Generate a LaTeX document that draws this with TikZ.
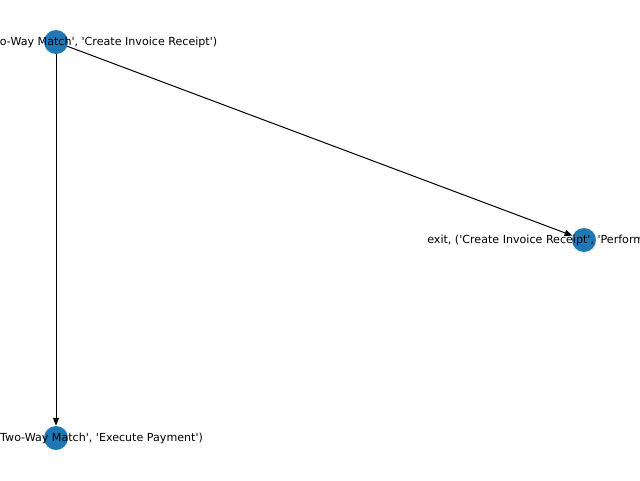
\documentclass[tikz,border=0pt]{standalone}
\usepackage{fontspec}
\setmainfont{DejaVu Sans}[Ligatures=TeXOff]
\usepackage{xcolor}
\usetikzlibrary{arrows.meta}
\definecolor{nodeblue}{HTML}{1F77B4}

\begin{document}
\begin{tikzpicture}[x=1pt, y=-1pt, >={Triangle[length=8pt,width=6pt]}]
\tikzstyle{dot}=[circle, fill=nodeblue, minimum size=24pt, inner sep=0pt]
\tikzstyle{lbl}=[inner sep=0pt, font=\fontsize{11.1}{13}\selectfont]

\useasboundingbox (0,0) rectangle (640,480);
\clip (0,0) rectangle (640,480);

\node[dot] (match) at (56,42) {};
\node[dot] (exit) at (584,240) {};
\node[dot] (pay) at (56,438) {};

\draw[->, line width=1pt] (match) -- (exit);
\draw[->, line width=1pt] (match) -- (pay);

\node[lbl] (matchtext) at (match) {enter, ('Perform Two-Way Match', 'Create Invoice Receipt')};
\node[lbl] (exittext) at (exit) {exit, ('Create Invoice Receipt', 'Perform Two-Way Match')};
\node[lbl] (paytext) at (pay) {enter, ('Perform Two-Way Match', 'Execute Payment')};

\end{tikzpicture}
\end{document}
